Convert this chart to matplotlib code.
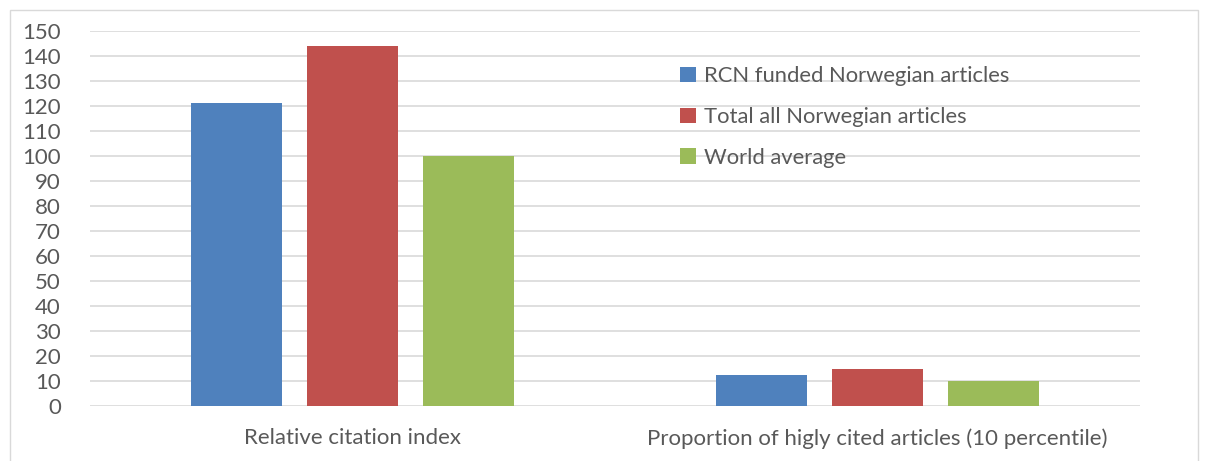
import matplotlib.pyplot as plt
import numpy as np
from matplotlib.patches import Rectangle

categories = ["Relative citation index", "Proportion of higly cited articles (10 percentile)"]
series_names = ["RCN funded Norwegian articles", "Total all Norwegian articles", "World average"]
rcn_funded = [121, 12.5]
total_norway = [144, 14.8]
world_avg = [100, 10]
colors = ["#4f81bd", "#c0504d", "#9bbb59"]

plt.rcParams['font.family'] = ['Lato', 'DejaVu Sans']
text_color = "#595959"

fig = plt.figure(figsize=(12.09, 4.61), dpi=100)
# outer chart border
fig.patches.append(Rectangle((10 / 1209, -0.05), 1188 / 1209, 1.05 - 10 / 461, transform=fig.transFigure,
                             fill=False, edgecolor="#d9d9d9", linewidth=1))
ax = fig.add_axes([90 / 1209, (461 - 406) / 461, 1050 / 1209, 375 / 461])

x = np.arange(len(categories))
width = 0.175
step = 0.221
for i, (vals, name) in enumerate(zip([rcn_funded, total_norway, world_avg], series_names)):
    ax.bar(x + (i - 1) * step, vals, width, color=colors[i], label=name, zorder=3)

ax.set_xlim(-0.5, 1.5)
ax.set_ylim(0, 150)
ax.set_yticks(np.arange(0, 151, 10))
ax.set_xticks(x)
ax.set_xticklabels(categories)
ax.grid(axis='y', color="#d9d9d9", linewidth=1.2, zorder=0)
for s in ax.spines.values():
    s.set_visible(False)
ax.tick_params(axis='both', length=0, labelcolor=text_color, labelsize=16)
ax.tick_params(axis='x', pad=16)
ax.tick_params(axis='y', pad=21)
for lbl in ax.get_yticklabels():
    lbl.set_horizontalalignment('right')

leg = ax.legend(loc='upper left', bbox_to_anchor=(0.554, 0.93), frameon=False,
                fontsize=15.8, labelspacing=0.95, handlelength=0.7, handleheight=0.7,
                handletextpad=0.35, borderaxespad=0)
for t in leg.get_texts():
    t.set_color(text_color)

fig.savefig("out.png", dpi=100)
